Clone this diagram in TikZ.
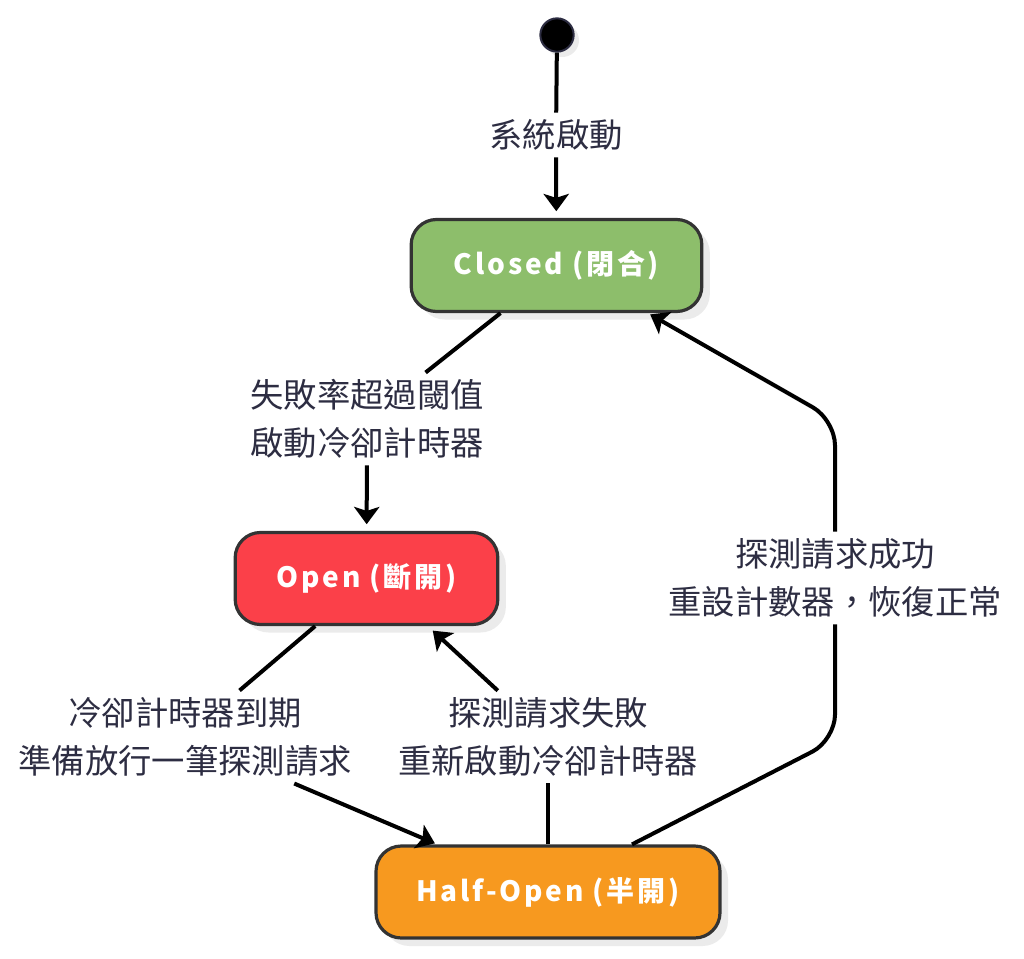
\documentclass[tikz,border=0pt]{standalone}
\usepackage{fontspec}
\setmainfont{Noto Sans CJK TC}
\newfontfamily\statefont{Noto Sans CJK TC}[LetterSpace=10]
\usetikzlibrary{arrows.meta,shadows,positioning}

\definecolor{closedgreen}{HTML}{8DBE6B}
\definecolor{openred}{HTML}{FB4049}
\definecolor{halforange}{HTML}{F7991F}
\definecolor{borderdark}{HTML}{333333}
\definecolor{labelink}{HTML}{2D2D42}

\tikzset{
  state/.style={draw=borderdark, line width=2.4pt, rounded corners=19pt,
    minimum height=69pt, text=white, font=\statefont\fontsize{21}{24}\selectfont\bfseries,
    drop shadow={shadow xshift=6pt, shadow yshift=-6pt, fill=black!8, opacity=1}},
  lbl/.style={text=labelink, align=center, inner sep=5pt,
    font=\fontsize{25}{36}\selectfont},
  trans/.style={line width=3pt, -{Stealth[length=13pt, width=19pt, inset=3pt]},
    shorten >=5pt},
  seg/.style={line width=3pt}
}

\begin{document}
\begin{tikzpicture}[x=0.75pt, y=-0.75pt]
  \useasboundingbox (0,0) rectangle (1024,959);

  % states
  \node[circle, fill=black, draw=labelink, line width=1.5pt, minimum size=25pt,
    inner sep=0pt, drop shadow={shadow xshift=4pt, shadow yshift=-4pt, fill=black!8, opacity=1}]
    (start) at (557,35) {};
  \node[state, fill=closedgreen, minimum width=218pt] (closed) at (556.5,265.5) {Closed (閉合)};
  \node[state, fill=openred, minimum width=197pt] (open) at (366.5,578.5) {Open (斷開)};
  \node[state, fill=halforange, minimum width=258pt] (half) at (548,892) {Half-Open (半開)};

  % transition labels
  \node[lbl] (boot) at (556,135) {系統啟動};
  \node[lbl] (trip) at (367,419) {失敗率超過閾值\\啟動冷卻計時器};
  \node[lbl] (expire) at (185,737) {冷卻計時器到期\\準備放行一筆探測請求};
  \node[lbl] (fail) at (548,737) {探測請求失敗\\重新啟動冷卻計時器};
  \node[lbl] (success) at (835,578) {探測請求成功\\重設計數器，恢復正常};

  \coordinate (bendlow) at (835,740);
  \coordinate (bendhigh) at (835,420);

  % transitions
  \draw[seg] (start) -- (boot);
  \draw[trans] (boot) -- (closed);

  \draw[seg] ([xshift=-42pt]closed.south) -- (trip);
  \draw[trans] (trip) -- (open);

  \draw[seg] ([xshift=-38.5pt]open.south) -- (expire);
  \draw[trans, shorten >=2pt] (expire) -- ([xshift=-83pt]half.north);

  \draw[seg] (half.north) -- (fail);
  \draw[trans] (fail) -- ([xshift=46pt]open.south);

  \draw[seg, rounded corners=19pt] ([xshift=63pt]half.north) -- (bendlow) -- (success);
  \draw[trans, shorten >=2pt, rounded corners=19pt] (success) -- (bendhigh) -- ([xshift=68.5pt]closed.south);
\end{tikzpicture}
\end{document}
